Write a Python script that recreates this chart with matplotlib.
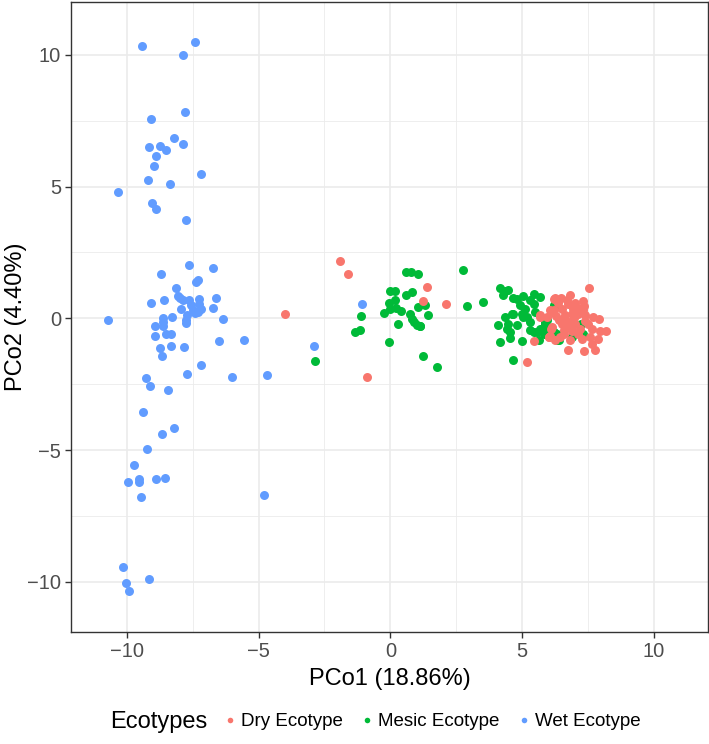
import matplotlib
matplotlib.use("Agg")
from matplotlib import pyplot as plt
from matplotlib.lines import Line2D
import numpy as np

plt.rcParams['font.family'] = ['Liberation Sans', 'DejaVu Sans']

#=============+
# Data (PCoA) |
#=============+
wet_x = [-9.43, -7.41, -7.88, -7.78, -9.08, -8.19, -7.88, -9.14, -8.75, -8.52,
         -8.91, -8.96, -7.18, -9.20, -8.37, -10.33, -9.04, -8.89, -7.77, -7.63,
         -6.74, -8.72, -7.31, -7.37, -8.14, -8.07, -7.99, -8.60, -9.08, -7.87,
         -7.63, -7.25, -6.63, -7.58, -7.25, -7.94, -7.50, -7.20, -6.74, -7.41,
         -7.30, -7.73, -8.28, -8.64, -6.34, -10.71, -8.64, -7.75, -7.77, -8.93,
         -8.62, -8.50, -8.32, -8.94, -8.74, -8.67, -8.34, -7.83, -6.52, -5.54,
         -7.20, -7.70, -6.00, -4.67, -9.27, -9.12, -8.42, -9.37, -8.19, -8.67,
         -9.22, -9.71, -9.97, -9.53, -9.53, -8.91, -8.55, -9.47, -4.78, -10.14,
         -10.03, -9.92, -9.14, -1.06, -2.90]
wet_y = [10.33, 10.50, 10.00, 7.82, 7.56, 6.84, 6.60, 6.50, 6.53, 6.38,
         6.14, 5.79, 5.46, 5.26, 5.10, 4.79, 4.36, 4.15, 3.74, 2.04,
         1.92, 1.67, 1.45, 1.39, 1.15, 0.86, 0.77, 0.71, 0.59, 0.68,
         0.68, 0.73, 0.78, 0.52, 0.54, 0.34, 0.33, 0.35, 0.39, 0.21,
         0.24, 0.13, 0.05, 0.03, -0.01, -0.08, -0.14, -0.05, -0.18, -0.28,
         -0.30, -0.58, -0.60, -0.68, -1.14, -1.43, -1.06, -1.07, -0.86, -0.81,
         -1.76, -2.10, -2.23, -2.15, -2.26, -2.58, -2.72, -3.54, -4.15, -4.39,
         -4.97, -5.58, -6.22, -6.10, -6.20, -6.10, -6.06, -6.78, -6.69, -9.45,
         -10.03, -10.36, -9.87, 0.56, -1.04]

mesic_x = [-1.10, -1.17, -1.34, -2.87, -0.04, 0.58, 0.80, 1.06, 2.75, 0.00,
           0.19, 0.81, 0.61, 0.19, -0.04, 1.03, 1.30, 0.23, 0.39, -0.01,
           -0.24, 0.73, 1.43, 0.82, 0.91, 1.01, 1.11, 0.29, 1.14, 2.90,
           3.51, 1.22, 1.75, 4.17, 4.36, 4.48, 4.29, 4.67, 4.82, 5.05,
           5.43, 5.68, 4.92, 5.30, 5.11, 5.43, 5.49, 4.65, 4.99, 5.18,
           4.36, 4.61, 5.05, 4.10, 4.48, 4.42, 4.80, 5.30, 5.43, 5.68,
           5.87, 4.55, 5.30, 5.56, 5.81, 6.19, 4.52, 4.14, 4.99, 5.62,
           6.31, 4.65, 5.81, 6.19, 5.87, 6.22, 5.93, 7.23, 6.00, 6.31,
           6.38, 6.88, 7.32]
mesic_y = [0.08, -0.46, -0.50, -1.61, -0.89, 1.77, 1.76, 1.68, 1.85, 1.05,
           1.02, 1.01, 0.87, 0.70, 0.57, 0.44, 0.51, 0.38, 0.29, 0.35,
           0.19, 0.16, 0.14, -0.01, -0.14, -0.24, -0.30, -0.20, -0.28, 0.46,
           0.61, -1.43, -1.85, 1.16, 1.04, 1.06, 0.87, 0.78, 0.75, 0.83,
           0.94, 0.81, 0.49, 0.68, 0.37, 0.56, 0.24, 0.18, 0.18, 0.05,
           0.05, 0.18, 0.05, -0.27, -0.20, -0.39, -0.27, -0.14, -0.52, -0.39,
           -0.20, -0.52, -0.46, -0.52, -0.46, -0.52, -0.73, -0.90, -0.86, -0.83,
           -0.83, -1.57, -0.58, 0.43, -0.14, 0.49, -0.08, -0.20, -0.52, -0.58,
           -0.83, -0.71, -0.58]

dry_x = [-3.99, -1.93, -1.62, -0.87, 1.40, 1.22, 2.11, 5.20, 5.43, 6.00,
         5.68, 5.93, 6.13, 6.13, 6.19, 7.55, 6.25, 6.48, 7.32, 6.75,
         7.36, 6.19, 6.50, 6.94, 6.63, 6.88, 7.13, 7.39, 7.70, 7.92,
         6.38, 6.75, 7.01, 7.51, 6.10, 6.57, 6.88, 7.64, 7.95, 8.17,
         6.02, 6.44, 6.82, 7.26, 7.58, 7.87, 7.64, 7.77, 7.36, 6.75,
         6.25, 6.36, 6.82, 6.06, 5.68, 6.04, 6.60, 6.90, 7.10, 6.70,
         7.00, 7.20, 6.50, 6.80, 7.40, 6.30, 7.10, 6.60, 6.95, 7.30]
dry_y = [0.15, 2.19, 1.67, -2.24, 1.20, 0.67, 0.56, -1.66, -0.86, -0.71,
         0.11, 0.05, 0.24, -0.33, 0.75, 1.16, 0.78, 0.78, 0.66, 0.56,
         0.46, 0.33, 0.37, 0.37, 0.11, 0.18, 0.18, 0.11, 0.05, -0.04,
         -0.08, -0.14, -0.20, -0.20, -0.39, -0.46, -0.48, -0.39, -0.48, -0.48,
         -0.71, -0.71, -0.83, -0.77, -0.71, -0.77, -0.99, -1.19, -1.24, -1.21,
         -0.83, 0.57, 0.87, 0.30, 0.05, -0.68, 0.00, -0.10, 0.40, 0.70,
         0.60, -0.40, -0.20, -0.30, -0.10, 0.10, -0.60, -0.60, 0.00, 0.30]

labels = ['Dry Ecotype', 'Mesic Ecotype', 'Wet Ecotype']
colors = ['#F8766D', '#00BA38', '#619CFF']

#================+
# Graph Plotting |
#================+
fig = plt.figure(figsize=(7.09, 7.44), dpi=100)
ax = fig.add_axes([0.100, 0.1505, 0.8986, 0.8468])

ax.scatter(mesic_x, mesic_y, s=42, color=colors[1], linewidths=0, zorder=3)
ax.scatter(dry_x, dry_y, s=42, color=colors[0], linewidths=0, zorder=3)
ax.scatter(wet_x, wet_y, s=42, color=colors[2], linewidths=0, zorder=3)

ax.set_xlim(-12.12, 12.05)
ax.set_ylim(-11.9, 12.0)
ax.set_xticks([-10, -5, 0, 5, 10])
ax.set_yticks([-10, -5, 0, 5, 10])
ax.set_xticklabels(['\u221210', '\u22125', '0', '5', '10'])
ax.set_yticklabels(['\u221210', '\u22125', '0', '5', '10'])
ax.set_xticks([-7.5, -2.5, 2.5, 7.5], minor=True)
ax.set_yticks([-7.5, -2.5, 2.5, 7.5], minor=True)
ax.grid(which='major', color='#EBEBEB', linewidth=1.2, zorder=0)
ax.grid(which='minor', color='#EBEBEB', linewidth=0.6, zorder=0)
ax.set_axisbelow(True)
ax.tick_params(which='major', length=4, width=1, color='#333333',
               labelsize=14.5, labelcolor='#4D4D4D', pad=3)
ax.tick_params(which='minor', length=0)
for sp in ax.spines.values():
    sp.set_color('#333333')
    sp.set_linewidth(1.0)

ax.set_xlabel('PCo1 (18.86%)', fontsize=17, labelpad=5)
ax.set_ylabel('PCo2 (4.40%)', fontsize=17, labelpad=0)

# legend at the bottom, title to the left
fig.text(0.155, 0.030, 'Ecotypes', fontsize=17, ha='left', va='center')
handles = [Line2D([], [], marker='o', linestyle='', markersize=4,
                  markerfacecolor=c, markeredgewidth=0) for c in colors]
fig.legend(handles, labels, loc='center left', bbox_to_anchor=(0.287, 0.030),
           ncol=3, frameon=False, fontsize=13.5, handletextpad=0.1,
           columnspacing=0.8, handlelength=1.0)

plt.savefig('out.png', dpi=100)
